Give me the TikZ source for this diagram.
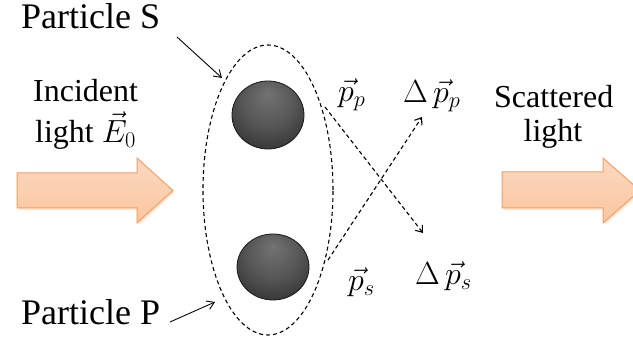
\RequirePackage{fix-cm}
\documentclass[tikz,border=0pt]{standalone}
\usepackage{fontspec}
\setmainfont{Liberation Serif}
\usetikzlibrary{arrows.meta,shadows,shapes.geometric}
\definecolor{peach}{RGB}{250,198,160}
\definecolor{peachtop}{RGB}{252,216,192}
\definecolor{peachedge}{RGB}{245,160,100}
\pgfdeclareradialshading{sphere}{\pgfpoint{0bp}{16bp}}{%
  color(0bp)=(black!55); color(18bp)=(black!66); color(36bp)=(black!82); color(50bp)=(black!94)}
\tikzset{
  lbl/.style={inner sep=0pt, anchor=base west},
  bigtxt/.style={font=\fontsize{36}{40}\selectfont},
  midtxt/.style={font=\fontsize{32}{36}\selectfont},
  mathtxt/.style={font=\fontsize{32}{34}\selectfont},
  dsh/.style={dash pattern=on 4pt off 3pt, line width=1.1pt},
  ptr/.style={line width=0.9pt, -{Straight Barb[length=7pt,width=9pt]}},
  dptr/.style={dsh, -{Straight Barb[length=6pt,width=9pt]}},
  fat/.style={draw=peachedge, line width=1pt, top color=peachtop, bottom color=peach,
    drop shadow={shadow xshift=1.5pt, shadow yshift=-2pt, opacity=0.25, fill=peachedge}},
  ball/.style={draw=black!90, line width=0.8pt, shading=sphere}
}
\begin{document}
\begin{tikzpicture}[x=1pt,y=-1pt]
\clip (0,0) rectangle (633,344);
\fill[white] (0,0) rectangle (633,344);
% orange arrows
\path[fat] (17,173) -- (137,173) -- (137,158) -- (173,190.5) -- (137,223) -- (137,208) -- (17,208) -- cycle;
\path[fat] (502,172) -- (603,172) -- (603,158) -- (640,190.5) -- (603,223) -- (603,208) -- (502,208) -- cycle;
% ellipse group
\node[draw, dsh, ellipse, minimum width=130pt, minimum height=290pt, inner sep=0pt] (grp) at (268,190) {};
% spheres
\node[ball, ellipse, minimum width=72pt, minimum height=68pt, inner sep=0pt] (S) at (268,115) {};
\node[ball, ellipse, minimum width=72pt, minimum height=66pt, inner sep=0pt] (P) at (273,267) {};
% dashed momentum arrows
\coordinate (a1) at (325,107);
\coordinate (a2) at (423,233);
\coordinate (b1) at (328,260);
\coordinate (b2) at (422,117);
\draw[dptr] (a1) -- (a2);
\draw[dptr] (b1) -- (b2);
% labels
\node[lbl, bigtxt] (ls) at (21,29) {Particle S};
\node[lbl, bigtxt] (lp) at (21,325) {Particle P};
\node[lbl, midtxt] (inc) at (33,102) {Incident};
\node[lbl, midtxt] (lig) at (35,143) {light $\vec{E}_0$};
\node[lbl, midtxt] (sca) at (494,108) {Scattered};
\node[inner sep=0pt, anchor=base, midtxt] (lig2) at (553,142) {light};
\node[lbl, mathtxt] (pp) at (338,102) {$\vec{p}_p$};
\node[lbl, mathtxt] (dpp) at (403,103) {$\Delta\,\vec{p}_p$};
\node[lbl, mathtxt] (ps) at (348,291) {$\vec{p}_s$};
\node[lbl, mathtxt] (dps) at (415,285) {$\Delta\,\vec{p}_s$};
% pointers
\coordinate (sA) at (177,37);
\coordinate (sB) at (222,78);
\coordinate (pA) at (170,322);
\coordinate (pB) at (215,302);
\draw[ptr] (sA) -- (sB);
\draw[ptr] (pA) -- (pB);
\end{tikzpicture}
\end{document}
